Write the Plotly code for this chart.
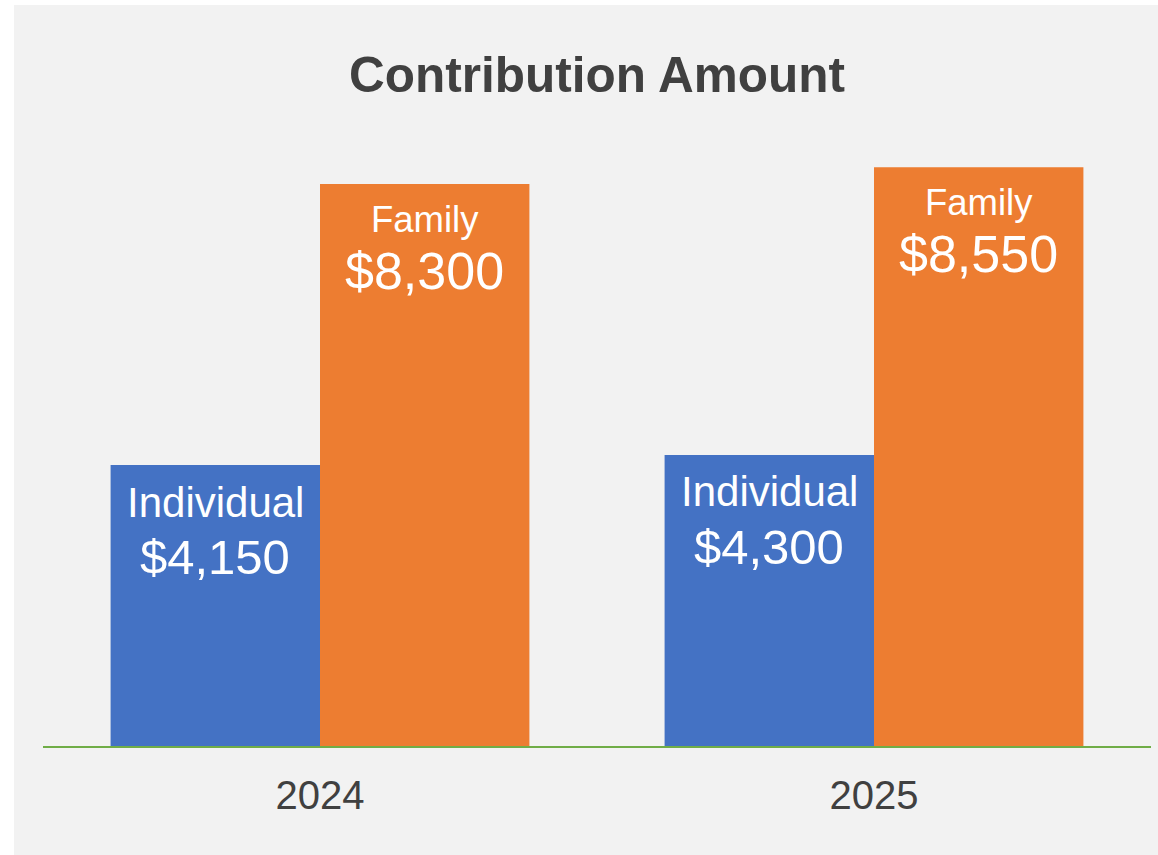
import plotly.graph_objects as go

years = ["2024", "2025"]
series_names = ["Individual", "Family"]
individual = [4150, 4300]
family = [8300, 8550]
colors = ["#4472C4", "#ED7D31"]

W, H = 1158, 855
ml, mr, mt, mb = 43, 7, 69, 109
plot_w = W - ml - mr
plot_h = H - mt - mb
bargap = 0.244
FONT = "Arial, Liberation Sans, sans-serif"

# label styling per series: (name size, value size, name shift, value shift)
label_style = {
    "Individual": (42, 49, -37, -92),
    "Family": (36.5, 52, -35, -87),
}

fig = go.Figure()
for name, vals, col in zip(series_names, [individual, family], colors):
    fig.add_trace(go.Bar(name=name, x=years, y=vals, marker_color=col,
                         marker_line_width=0, hoverinfo="skip"))

# label annotations (x given as category index)
cat_w = plot_w / len(years)
bar_w = cat_w * (1 - bargap) / 2
offsets = [-bar_w / 2, bar_w / 2]
for name, vals, off in zip(series_names, [individual, family], offsets):
    ns, vs, nsh, vsh = label_style[name]
    for i, v in enumerate(vals):
        fig.add_annotation(x=i, y=v, xref="x", yref="y", xshift=off, yshift=nsh,
                           text=name, showarrow=False, yanchor="middle",
                           font=dict(family=FONT, size=ns, color="white"))
        fig.add_annotation(x=i, y=v, xref="x", yref="y", xshift=off, yshift=vsh,
                           text=f"${v:,}", showarrow=False, yanchor="middle",
                           font=dict(family=FONT, size=vs, color="white"))

# background panel
fig.add_shape(type="rect", xref="paper", yref="paper", layer="below",
              x0=(14 - ml) / plot_w, x1=(W - ml) / plot_w,
              y0=(mt + plot_h - H) / plot_h, y1=(mt + plot_h - 5) / plot_h,
              fillcolor="#F2F2F2", line_width=0)

fig.update_layout(
    width=W, height=H,
    margin=dict(l=ml, r=mr, t=mt, b=mb, autoexpand=False),
    paper_bgcolor="white", plot_bgcolor="rgba(0,0,0,0)",
    barmode="group", bargap=bargap, bargroupgap=0,
    showlegend=False,
    title=dict(text="<b>Contribution Amount</b>", x=0.5, xref="paper",
               y=1 - 75 / H, yanchor="middle", xanchor="center",
               font=dict(family=FONT, size=49.5, color="#404040")),
    xaxis=dict(type="category", range=[-0.5, len(years) - 0.5], autorange=False,
               showline=True, linecolor="#70AD47", linewidth=2,
               showgrid=False, ticks="outside", ticklen=13, tickcolor="rgba(0,0,0,0)",
               tickfont=dict(family=FONT, size=40, color="#404040"),
               zeroline=False, fixedrange=True),
    yaxis=dict(range=[0, 10000], autorange=False, visible=False, showgrid=False,
               zeroline=False, fixedrange=True),
)

fig.write_html("out.html", config={"displayModeBar": False},
               post_script="document.body.style.margin='0';document.body.style.overflow='hidden';")
